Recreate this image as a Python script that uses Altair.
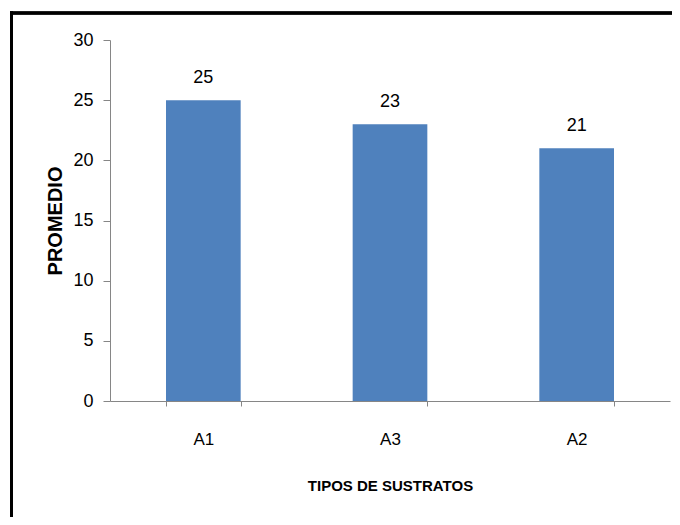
import altair as alt
import pandas as pd

categories = ["A1", "A3", "A2"]
values = [25, 23, 21]

df = pd.DataFrame({"cat": categories, "val": values})

FONT = "Liberation Sans, Arial, sans-serif"
AXIS_GRAY = "#868686"

x = alt.X(
    "cat:N",
    sort=categories,
    scale=alt.Scale(paddingInner=0.6, paddingOuter=0.3),
    axis=alt.Axis(
        title="TIPOS DE SUSTRATOS",
        labelAngle=0,
        tickBand="extent",
        tickSize=5,
        labelPadding=25,
        titlePadding=31,
        labelFontSize=17,
        titleFontSize=15,
        titleFontWeight="bold",
        labelColor="#000000",
        titleColor="#000000",
        domainColor=AXIS_GRAY,
        tickColor=AXIS_GRAY,
        labelFont=FONT,
        titleFont=FONT,
    ),
)

y = alt.Y(
    "val:Q",
    scale=alt.Scale(domain=[0, 30]),
    axis=alt.Axis(
        title="PROMEDIO",
        values=[0, 5, 10, 15, 20, 25, 30],
        grid=False,
        tickSize=7,
        labelPadding=10,
        titlePadding=7,
        labelFontSize=18,
        titleFontSize=20,
        titleFontWeight="bold",
        labelColor="#000000",
        titleColor="#000000",
        domainColor=AXIS_GRAY,
        tickColor=AXIS_GRAY,
        labelFont=FONT,
        titleFont=FONT,
    ),
)

bars = alt.Chart(df).mark_bar(color="#4F81BD").encode(x=x, y=y)

labels = alt.Chart(df).mark_text(
    dy=-17, fontSize=18, font=FONT, color="#000000", baseline="alphabetic"
).encode(x=alt.X("cat:N", sort=categories), y="val:Q", text="val:Q")

frame_left = alt.Chart(df).mark_rule(color="#000000", strokeWidth=3).encode(
    x=alt.value(-98.5), y=alt.value(-28.5), y2=alt.value(700)
)
frame_top = alt.Chart(df).mark_rule(color="#000000", strokeWidth=3).encode(
    x=alt.value(-100), x2=alt.value(700), y=alt.value(-27)
)

chart = (
    alt.layer(bars, labels, frame_left, frame_top)
    .properties(
        width=560,
        height=361,
        background="#ffffff",
        autosize=alt.AutoSizeParams(type="none"),
        padding={"left": 102, "top": 32, "right": 2, "bottom": 116},
    )
    .configure_view(strokeWidth=0, stroke="transparent")
)

chart.save("out.html", embed_options={"renderer": "svg", "actions": False})
